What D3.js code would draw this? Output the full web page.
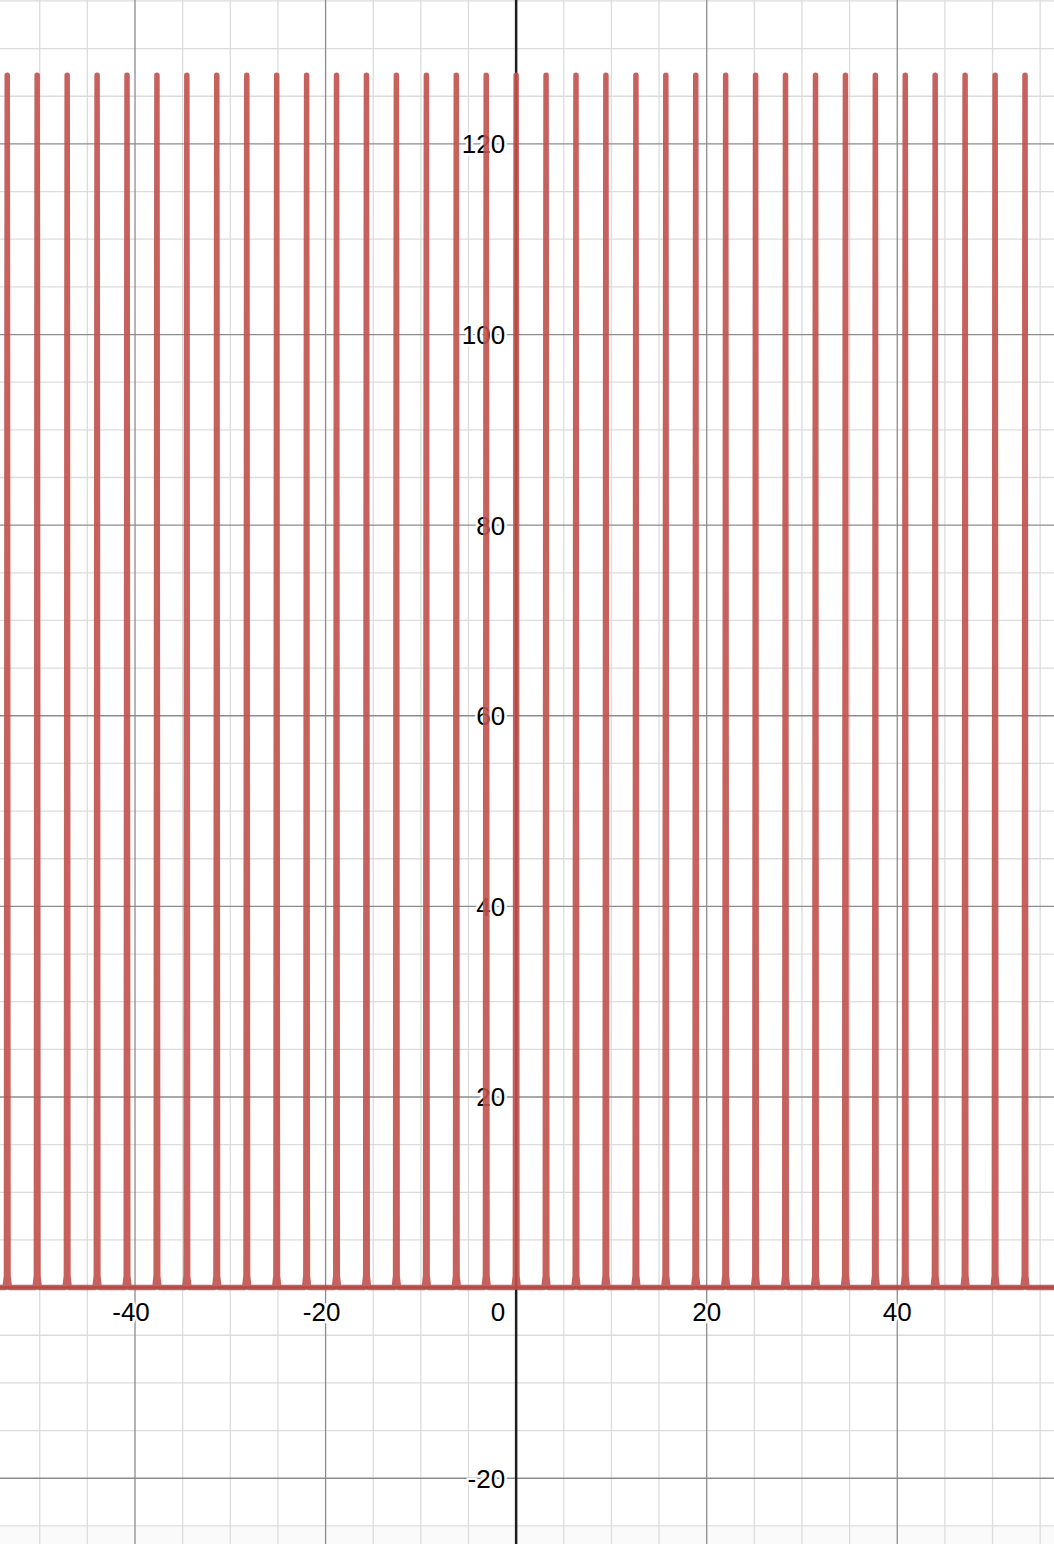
<!DOCTYPE html>
<html><head><meta charset="utf-8">
<script src="https://cdn.jsdelivr.net/npm/d3@7"></script>
<style>html,body{margin:0;padding:0;background:#fff;overflow:hidden}</style>
</head><body>
<svg id="c" width="1054" height="1544"></svg>
<script>
// ---- data ----
const peakCenters = [-53.41,-50.27,-47.12,-43.98,-40.84,-37.70,-34.56,-31.42,-28.27,-25.13,-21.99,-18.85,-15.71,-12.57,-9.42,-6.28,-3.14,0,3.14,6.28,9.42,12.57,15.71,18.85,21.99,25.13,28.27,31.42,34.56,37.70,40.84,43.98,47.12,50.27,53.41];
const peakHeight = 127.2;
const profileOffsets = [-0.22, -0.08, -0.025, 0, 0.025, 0.08, 0.22];
const profileFractions = [0, 0.01, 0.8, 1, 0.8, 0.01, 0];
const xTickValues = [-40, -20, 0, 20, 40];
const yTickValues = [-20, 20, 40, 60, 80, 100, 120];
const xDomain = [-54.17, 56.45];
const yDomain = [-26.9, 135.1];
const minorStep = 5, majorStep = 20;

const W = 1054, H = 1544;
const svg = d3.select("#c");
const x = d3.scaleLinear().domain(xDomain).range([0, W]);
const y = d3.scaleLinear().domain(yDomain).range([H, 0]);

svg.append("rect").attr("x",0).attr("y",0).attr("width",W).attr("height",H).attr("fill","#fff");
svg.append("rect").attr("x",0).attr("y",1527).attr("width",W).attr("height",H-1527).attr("fill","#fafafa");

const g = svg.append("g");
const minorX = d3.range(Math.ceil(xDomain[0]/minorStep)*minorStep, xDomain[1], minorStep);
const minorY = d3.range(Math.ceil(yDomain[0]/minorStep)*minorStep, yDomain[1], minorStep);
g.selectAll(".mx").data(minorX.filter(v=>v%majorStep!==0)).enter().append("line")
  .attr("x1",d=>x(d)).attr("x2",d=>x(d)).attr("y1",0).attr("y2",H)
  .attr("stroke","#dcdcdc").attr("stroke-width",1.3);
g.selectAll(".my").data(minorY.filter(v=>v%majorStep!==0)).enter().append("line")
  .attr("y1",d=>y(d)).attr("y2",d=>y(d)).attr("x1",0).attr("x2",W)
  .attr("stroke","#dcdcdc").attr("stroke-width",1.3);
g.selectAll(".Mx").data(minorX.filter(v=>v%majorStep===0 && v!==0)).enter().append("line")
  .attr("x1",d=>x(d)).attr("x2",d=>x(d)).attr("y1",0).attr("y2",H)
  .attr("stroke","#8c8c8c").attr("stroke-width",1.3);
g.selectAll(".My").data(minorY.filter(v=>v%majorStep===0 && v!==0)).enter().append("line")
  .attr("y1",d=>y(d)).attr("y2",d=>y(d)).attr("x1",0).attr("x2",W)
  .attr("stroke","#8c8c8c").attr("stroke-width",1.3);

// axes
svg.append("line").attr("x1",x(0)).attr("x2",x(0)).attr("y1",0).attr("y2",H)
  .attr("stroke","#1e1e1e").attr("stroke-width",2.5);
svg.append("line").attr("x1",0).attr("x2",W).attr("y1",y(0)).attr("y2",y(0))
  .attr("stroke","#1e1e1e").attr("stroke-width",2.5);

// labels
const font = "Liberation Sans, Arial, sans-serif";
const lab = svg.append("g").attr("font-family",font).attr("font-size",26).attr("fill","#000");
function halo(sel){ return sel.attr("stroke","#fff").attr("stroke-width",5).attr("stroke-linejoin","round").attr("paint-order","stroke"); }
xTickValues.forEach(v=>{
  if(v===0){
    halo(lab.append("text").attr("x",x(0)-11).attr("y",y(0)+33).attr("text-anchor","end").text("0"));
  } else {
    halo(lab.append("text").attr("x",x(v)-(v<0?4:0)).attr("y",y(0)+33).attr("text-anchor","middle").text(String(v)));
  }
});
yTickValues.forEach(v=>{
  halo(lab.append("text").attr("x",x(0)-11).attr("y",y(v)).attr("dy","0.36em").attr("text-anchor","end").text(String(v)));
});

// curve
const pts = [];
pts.push([xDomain[0], 0]);
peakCenters.forEach(c=>{
  profileOffsets.forEach((o,i)=>pts.push([c+o, peakHeight*profileFractions[i]]));
});
pts.push([xDomain[1], 0]);
const line = d3.line().x(d=>x(d[0])).y(d=>y(d[1]));
svg.append("path").attr("d", line(pts)).attr("fill","none")
  .attr("stroke","#c0504c").attr("stroke-opacity",0.9).attr("stroke-width",5.5)
  .attr("stroke-linejoin","round").attr("stroke-linecap","round");
</script>
</body></html>
